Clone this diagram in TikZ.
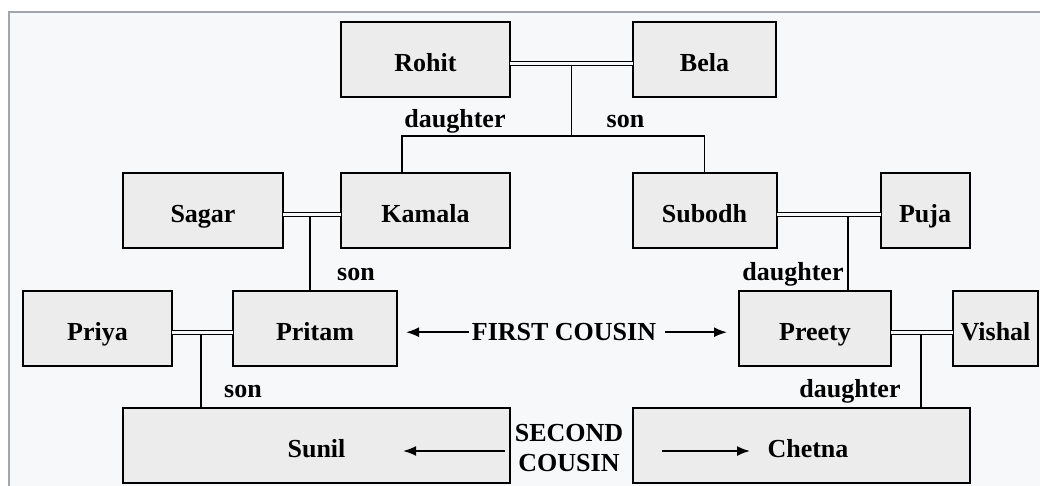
\documentclass[tikz,border=0pt]{standalone}
\usepackage{fontspec}
\setmainfont{Liberation Serif}
\usetikzlibrary{positioning}
\usetikzlibrary{arrows.meta}
\definecolor{boxfill}{HTML}{ECECEC}
\definecolor{pagebg}{HTML}{F7F8FA}
\definecolor{framegray}{HTML}{A2A6AC}

\begin{document}
\begin{tikzpicture}[x=1pt,y=-1pt,
                    person/.style={rectangle,
                                   inner sep=0mm,outer sep=0,
                                   draw=black,
                                   line width=2pt,
                                   fill=boxfill,
                                   minimum height=75pt,
                                   text height=28pt,text depth=4pt,
                                   font=\bfseries\fontsize{26}{30}\selectfont
                                  },
                    relation/.style={inner sep=0mm,anchor=base,
                                     font=\bfseries\fontsize{26}{30}\selectfont
                                    },
                    marriage/.style={line width=1.4pt,
                                     double=pagebg,
                                     double distance=2.6pt
                                    },
                    descent/.style={line width=1.9pt},
                    cousinarrow/.style={
                                    line width=1.8pt,
                                    ->,
                                    >={Latex[length=13pt,width=10pt]}
                                    }
                    ]
  \useasboundingbox (0,0) rectangle (1040,486);
  \fill[white] (0,0) rectangle (1040,486);
  \fill[pagebg] (9,12) rectangle (1040,486);
  \draw[framegray,line width=1.8pt] (9,486) -- (9,12) -- (1040,12);

  \node[person,minimum width=169pt] at (425.5,59.5) (Rohit) {Rohit};
  \node[person,right= 123pt of Rohit,minimum width=143pt] (Bela) {Bela};
  \node[person,below= 76pt of Rohit,minimum width=169pt] (Kamala) {Kamala};
  \node[person,left= 58pt of Kamala,minimum width=160pt] (Sagar) {Sagar};
  \node[person,below= 76pt of Bela,minimum width=144pt] (Subodh) {Subodh};
  \node[person,right= 104pt of Subodh,minimum width=89pt] (Puja) {Puja};
  \node[person,minimum width=164pt] at (315,328.5) (Pritam) {Pritam};
  \node[person,left= 61pt of Pritam,minimum width=149pt] (Priya) {Priya};
  \node[person,minimum width=152pt] at (815,328.5) (Preety) {Preety};
  \node[person,right= 62pt of Preety,minimum width=85pt] (Vishal) {Vishal};
  \node[person,minimum width=387pt] at (316.5,445.5) (Sunil) {Sunil};
  \node[person,minimum width=337pt] at (801.5,445.5) (Chetna) {\hspace*{13pt}Chetna};

  \coordinate (bar) at (0,136);
  \draw [marriage] ([yshift=-4pt]Rohit.east) -- ([yshift=-4pt]Bela.west) coordinate[pos=.5] (RohitBela);
  \draw [descent] ([yshift=-2pt]RohitBela) -- (RohitBela |- bar);
  \draw [descent] ([xshift=61pt]Kamala.north west) |- (Subodh.north |- bar) -- (Subodh.north);
  \node[relation] (daughterA) at (455,128) {daughter};
  \node[relation] (sonA) at (625.5,128) {son};

  \draw [marriage] ([yshift=-4pt]Sagar.east) -- ([yshift=-4pt]Kamala.west) coordinate[pos=.47] (SagarKamala);
  \draw [descent] ([yshift=-2pt]SagarKamala) -- (SagarKamala |- Pritam.north);
  \node[relation] (sonB) at (356,280) {son};

  \draw [marriage] ([yshift=-4pt]Subodh.east) -- ([yshift=-4pt]Puja.west) coordinate[pos=.69] (SubodhPuja);
  \draw [descent] ([yshift=-2pt]SubodhPuja) -- (SubodhPuja |- Preety.north);
  \node[relation] (daughterB) at (793,280) {daughter};

  \draw [marriage] ([yshift=-4pt]Priya.east) -- ([yshift=-4pt]Pritam.west) coordinate[pos=.47] (PriyaPritam);
  \draw [descent] ([yshift=-2pt]PriyaPritam) -- (PriyaPritam |- Sunil.north);
  \node[relation] (sonC) at (243,397) {son};

  \draw [marriage] ([yshift=-4pt]Preety.east) -- ([yshift=-4pt]Vishal.west) coordinate[pos=.48] (PreetyVishal);
  \draw [descent] ([yshift=-2pt]PreetyVishal) -- (PreetyVishal |- Chetna.north);
  \node[relation] (daughterC) at (850,397) {daughter};

  \node[relation] (first) at (564,340.7) {FIRST COUSIN};
  \draw [cousinarrow,shorten >=9pt] ([xshift=-3pt]first.west) -- (first.west -| Pritam.east);
  \draw [cousinarrow,shorten >=12pt] ([xshift=9pt]first.east) -- (first.east -| Preety.west);

  \node[relation,anchor=center,align=center] (second) at (569,448) {SECOND\\COUSIN};
  \coordinate (sunilTail) at (505,451);
  \coordinate (sunilTip) at (403,451);
  \coordinate (chetnaTail) at (662,451);
  \coordinate (chetnaTip) at (750,451);
  \draw [cousinarrow] (sunilTail) -- (sunilTip);
  \draw [cousinarrow] (chetnaTail) -- (chetnaTip);

  \end{tikzpicture}
\end{document}
